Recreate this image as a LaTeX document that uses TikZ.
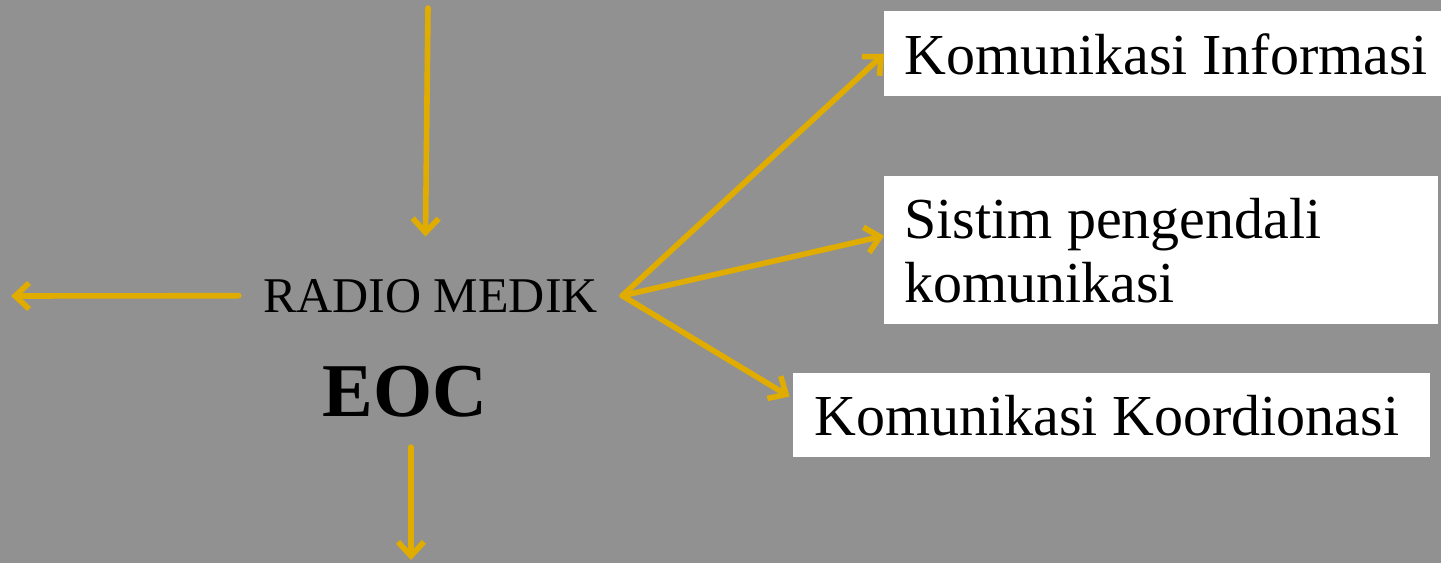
\documentclass[tikz,border=0pt]{standalone}
\usepackage{fontspec}
\setmainfont{Liberation Serif}
\usetikzlibrary{arrows.meta}
\definecolor{panelgray}{RGB}{145,145,145}
\definecolor{linkgold}{RGB}{225,172,0}

\begin{document}
\begin{tikzpicture}[x=0.5pt, y=-0.5pt,
    link/.style ={draw=linkgold, line width=2.8pt, line cap=round, -{Straight Barb[length=7pt,width=13pt]}},
    infobox/.style ={fill=white, anchor=north west, align=flush left, inner xsep=10pt, font=\fontsize{29}{32}\selectfont},
    hubtext/.style ={anchor=base, font=\fontsize{25}{30}\selectfont, inner xsep=12pt, inner ysep=21pt}]
   \fill[panelgray] (0,0) rectangle (1441,563);
   \useasboundingbox (0,0) rectangle (1441,563);

   \node[hubtext] (radio) at (430.5,312) {RADIO MEDIK};
   \node[anchor=base, font=\fontsize{38}{44}\selectfont\bfseries, inner ysep=15pt] (eoc) at (405,416) {EOC};

   \node[infobox, text width=280pt, minimum height=42.5pt] (info) at (884,11) {Komunikasi Informasi};
   \node[infobox, text width=257pt, minimum height=74pt] (kendali) at (884,176) {Sistim pengendali\\komunikasi};
   \node[infobox, text width=297.5pt, minimum height=42pt, inner xsep=10.5pt] (koord) at (793,373) {Komunikasi Koordionasi};

   \coordinate (topin) at (428,8);
   \coordinate (leftout) at (11,296);
   \coordinate (bottomout) at (411,560);

   \draw[link] (topin) to ([xshift=-2.5pt]radio.north);
   \draw[link] (radio.west) to (leftout);
   \draw[link] (eoc.south -| bottomout) to (bottomout);
   \draw[link] (radio.east) to (info.west);
   \draw[link] (radio.east) to (kendali.177.3);
   \draw[link, shorten >=2pt] (radio.east) to (koord.177.5);
 \end{tikzpicture}
\end{document}
